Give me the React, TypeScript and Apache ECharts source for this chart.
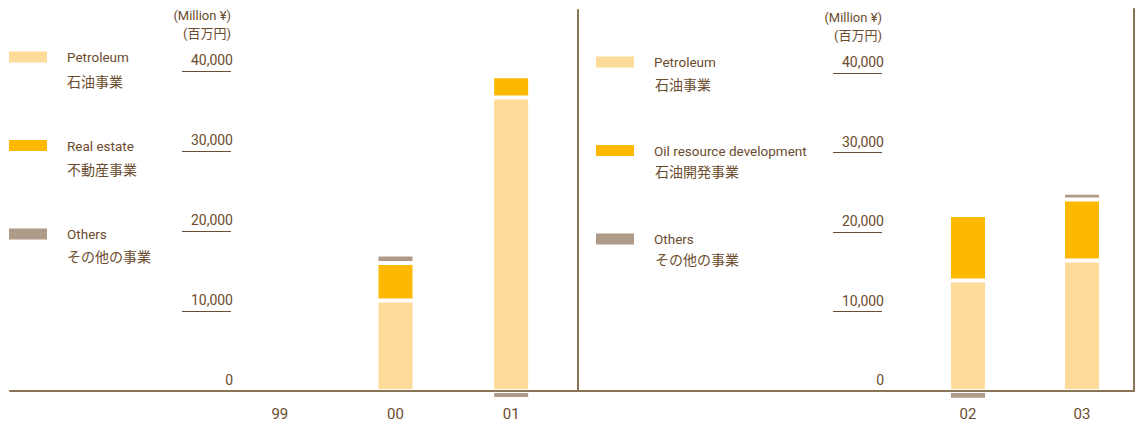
import React, { useEffect, useRef } from "react";
import * as echarts from "echarts";

// ---- data ----
const categoriesA = ["99", "00", "01"];
const petroleumA = [0, 11300, 36700];
const realEstateA = [0, 4700, 2650];
const othersA = [-150, 1050, -1000];

const categoriesB = ["02", "03"];
const petroleumB = [13900, 16400];
const oilDevB = [8250, 7700];
const othersB = [-1100, 850];

const yTicks = [0, 10000, 20000, 30000, 40000];

const legendA = ["Petroleum", "Real estate", "Others"];
const legendB = ["Petroleum", "Oil resource development", "Others"];
const japaneseNames: Record<string, string> = {
  Petroleum: "石油事業",
  "Real estate": "不動産事業",
  "Oil resource development": "石油開発事業",
  Others: "その他の事業",
};
const unitName = "(Million ¥)\n(百万円)";

const C_PET = "#fddb98";
const C_RE = "#fdb800";
const C_OTH = "#b09a88";
const C_TEXT = "#6b4c2e";
const C_AXIS = "#8b7456";
const FONT = "Roboto, 'Noto Sans CJK JP', sans-serif";

function barSeries(name: string, data: number[], color: string, xi: number, stack: string) {
  return {
    type: "bar",
    name,
    data,
    stack,
    xAxisIndex: xi,
    yAxisIndex: xi,
    barWidth: 38,
    clip: false,
    itemStyle: { color, borderColor: "#ffffff", borderWidth: 2 },
  };
}

function valueAxis(gridIndex: number, offset: number) {
  return {
    type: "value",
    gridIndex,
    min: yTicks[0],
    max: yTicks[yTicks.length - 1],
    interval: yTicks[1] - yTicks[0],
    position: "left",
    offset,
    axisLine: { show: false },
    splitLine: { show: false },
    axisTick: { show: true, length: 49, lineStyle: { color: C_TEXT, width: 1 } },
    axisLabel: {
      color: C_TEXT,
      fontSize: 14,
      fontFamily: FONT,
      margin: -2,
      verticalAlign: "bottom",
      padding: [0, 0, 4, 0],
      formatter: (v: number) => v.toLocaleString("en-US"),
    },
    name: unitName,
    nameLocation: "end",
    nameGap: 29,
    nameTextStyle: {
      color: C_TEXT,
      fontSize: 13,
      fontFamily: FONT,
      align: "right",
      verticalAlign: "bottom",
      lineHeight: 18,
    },
  };
}

function catAxis(gridIndex: number, data: string[]) {
  return {
    type: "category",
    gridIndex,
    data,
    axisLine: { show: false },
    axisTick: { show: false },
    axisLabel: { color: C_TEXT, fontSize: 15, fontFamily: FONT, margin: 15 },
  };
}

function frameX(gridIndex: number) {
  return {
    type: "category",
    gridIndex,
    data: [""],
    z: 10,
    axisLine: { show: true, lineStyle: { color: C_AXIS, width: 2 } },
    axisTick: { show: false },
    axisLabel: { show: false },
  };
}

function frameY(gridIndex: number) {
  return {
    type: "value",
    gridIndex,
    min: 0,
    max: 1,
    position: "right",
    z: 10,
    axisLine: { show: true, lineStyle: { color: C_AXIS, width: 2 } },
    axisTick: { show: false },
    axisLabel: { show: false },
    splitLine: { show: false },
  };
}

function enLegend(left: number, top: number, data: string[]) {
  return {
    orient: "vertical",
    left,
    top,
    data,
    icon: "rect",
    itemWidth: 38,
    itemHeight: 11,
    itemGap: 68.5,
    selectedMode: false,
    itemStyle: { borderWidth: 0 },
    textStyle: {
      color: C_TEXT,
      fontSize: 13.5,
      fontWeight: "normal",
      fontFamily: FONT,
      lineHeight: 16,
      padding: [4, 0, 0, 15],
    },
  };
}

function jpLegend(left: number, top: number, data: string[]) {
  return {
    orient: "vertical",
    left,
    top,
    data,
    icon: "rect",
    itemWidth: 0,
    itemHeight: 0,
    itemGap: 71.5,
    selectedMode: false,
    itemStyle: { borderWidth: 0 },
    formatter: (n: string) => japaneseNames[n] || n,
    textStyle: { color: C_TEXT, fontSize: 14, fontFamily: "'Noto Sans CJK JP', sans-serif", lineHeight: 16 },
  };
}

export default function App() {
  const ref = useRef<HTMLDivElement>(null);
  useEffect(() => {
    if (!ref.current) return;
    const chart = echarts.init(ref.current, undefined, { renderer: "svg" });
    chart.setOption({
      animation: false,
      backgroundColor: "#ffffff",
      textStyle: { fontFamily: FONT },
      grid: [
        { left: 222, right: 573, top: 71, bottom: 34 },
        { left: 10, right: 564, top: 10, bottom: 34 },
        { left: 911, right: 3, top: 73, bottom: 34 },
        { left: 578, right: 8, top: 9, bottom: 34 },
      ],
      xAxis: [catAxis(0, categoriesA), frameX(1), catAxis(2, categoriesB), frameX(3)],
      yAxis: [valueAxis(0, -9), frameY(1), valueAxis(2, 29), frameY(3)],
      legend: [
        enLegend(4, 42, legendA),
        jpLegend(57, 68, legendA),
        enLegend(591, 47, legendB),
        jpLegend(645, 70.5, legendB),
      ],
      series: [
        barSeries("Petroleum", petroleumA, C_PET, 0, "a"),
        barSeries("Real estate", realEstateA, C_RE, 0, "a"),
        barSeries("Others", othersA, C_OTH, 0, "a"),
        barSeries("Petroleum", petroleumB, C_PET, 2, "b"),
        barSeries("Oil resource development", oilDevB, C_RE, 2, "b"),
        barSeries("Others", othersB, C_OTH, 2, "b"),
      ],
    });
    return () => chart.dispose();
  }, []);
  return (
    <div
      ref={ref}
      style={{ position: "fixed", left: 0, top: 0, width: 1142, height: 425 }}
    />
  );
}
